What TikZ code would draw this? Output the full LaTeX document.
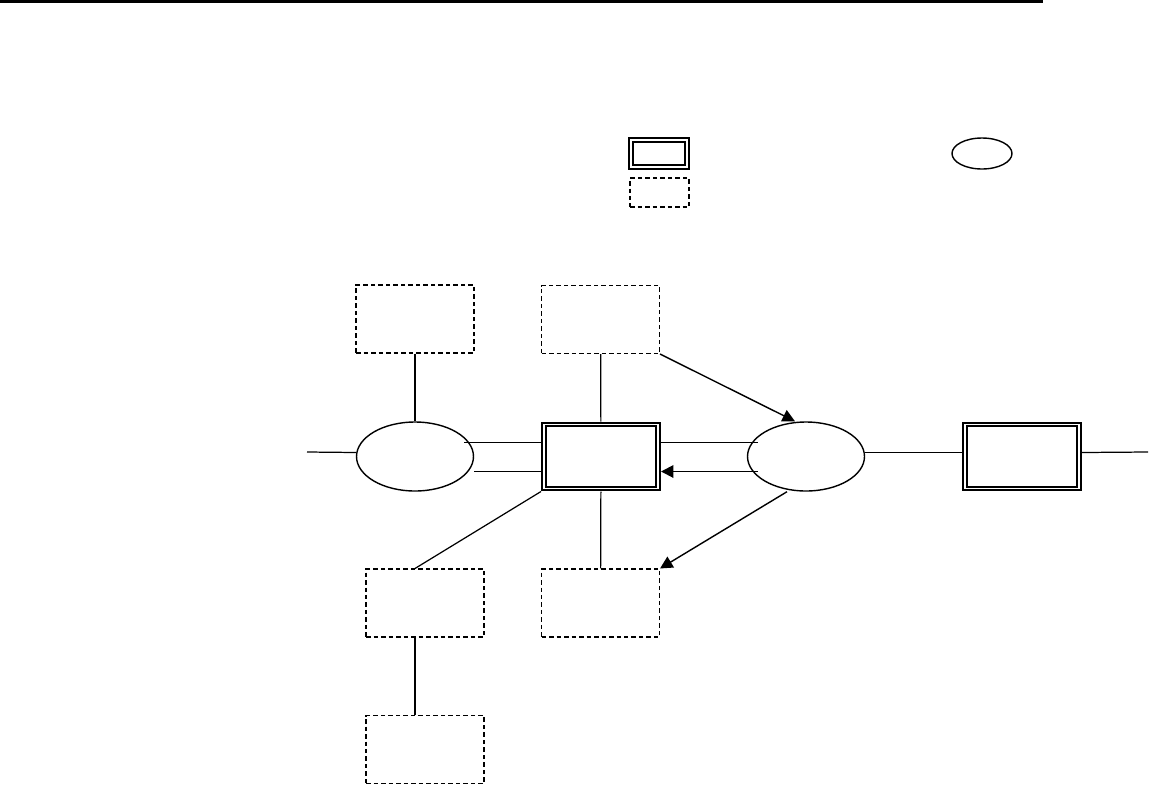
\documentclass[tikz,border=0pt]{standalone}
\usepackage{tikz}
\usetikzlibrary{arrows.meta,shapes.geometric}

\begin{document}
\begin{tikzpicture}[
  x=0.02cm, y=-0.02cm, line width=0.7pt,
  ent/.style={draw, double, line width=1.1pt, double distance=1.1pt, inner sep=0pt,
              outer sep=0.06cm, minimum width=2.28cm, minimum height=1.28cm},
  weak/.style={draw, dash pattern=on 0.09cm off 0.06cm, line width=0.6pt, inner sep=0pt,
               minimum width=2.36cm, minimum height=1.36cm},
  rel/.style={draw, ellipse, line width=0.8pt, inner sep=0pt,
              minimum width=2.34cm, minimum height=1.38cm},
  arr/.style={-{Triangle[length=0.25cm, width=0.25cm]}, line width=0.8pt}
]
\useasboundingbox (0,0) rectangle (1149,785);
% top rule
\coordinate (ruleL) at (0,1.5);
\coordinate (ruleR) at (1043,1.5);
\draw[line width=1.7pt] (ruleL) -- (ruleR);

% legend
\node[ent, minimum width=1.12cm, minimum height=0.54cm] (legEnt)  at (659,153.5) {};
\node[weak, minimum width=1.18cm, minimum height=0.58cm] (legWeak) at (659.5,192.5) {};
\node[rel, minimum width=1.2cm, minimum height=0.62cm]  (legRel)  at (982,153.5) {};

% main diagram
\node[weak] (attrA) at (415,319) {};
\node[weak] (attrB) at (600.5,319.5) {};
\node[rel]  (relL)  at (415,456.5) {};
\node[ent]  (core)  at (601,456.5) {};
\node[rel]  (relR)  at (806,456.5) {};
\node[ent]  (ext)   at (1022,456.5) {};
\node[weak] (attrC) at (425,603) {};
\node[weak] (attrD) at (600.5,603) {};
\node[weak] (attrE) at (425,749.5) {};

\coordinate (lftEnd) at (307,452);
\coordinate (rgtEnd) at (1148,452);

\draw (attrA) -- (relL);
\draw (attrB) -- (core);
\draw (core) -- (attrD);
\draw (core.south west) -- ([xshift=-0.2cm]attrC.north);
\draw ([xshift=-0.2cm]attrC.south) -- ([xshift=-0.2cm]attrE.north);
\draw (lftEnd) -- ([yshift=0.08cm]relL.west);
\draw[line width=1.1pt] ([xshift=-0.2cm,yshift=0.28cm]relL.east) -- ([yshift=0.28cm]relL.east -| core.west);
\draw ([yshift=-0.3cm]relL.east) -- ([yshift=-0.3cm]relL.east -| core.west);
\draw[line width=1.1pt] ([xshift=0.22cm,yshift=0.28cm]relR.west) -- ([yshift=0.28cm]relR.west -| core.east);
\draw[arr, line width=1.1pt] ([xshift=0.22cm,yshift=-0.3cm]relR.west) -- ([yshift=-0.3cm]relR.west -| core.east);
\draw[arr] (attrB.south east) -- ([xshift=-0.22cm]relR.north);
\draw[arr] ([xshift=-0.38cm]relR.south) -- (attrD.north east);
\draw ([yshift=0.08cm]relR.east) -- ([yshift=0.08cm]relR.east -| ext.west);
\draw ([yshift=0.08cm]ext.east) -- (rgtEnd);
\end{tikzpicture}
\end{document}
